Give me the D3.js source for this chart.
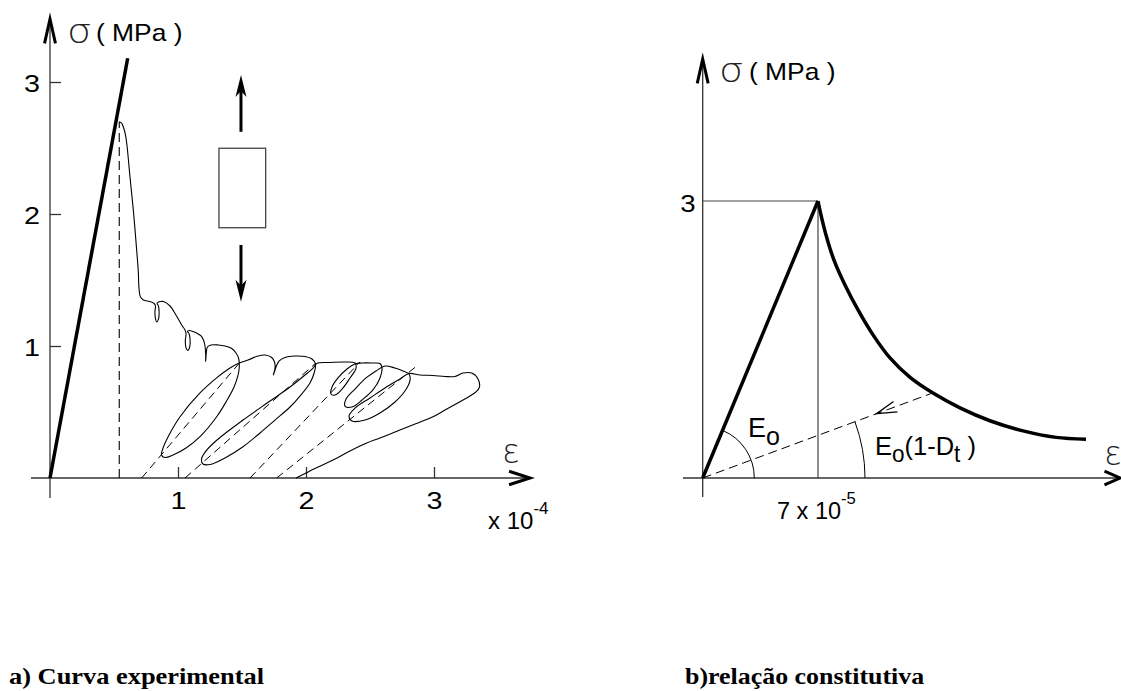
<!DOCTYPE html>
<html><head><meta charset="utf-8">
<script src="https://cdn.jsdelivr.net/npm/d3@7"></script>
<style>body{margin:0;background:#fff}svg{display:block}</style>
</head><body>
<script>
// ---------- DATA ----------
// Left: experimental curve (strain in 1e-4, stress in MPa)
const leftTicksX = [1, 2, 3];
const leftTicksY = [1, 2, 3];
const elasticLine = {strain: [0, 0.607], stress: [0, 3.18]};
const peakPoint = {strain: 0.541, stress: 2.699};
const curveStrain = [0.541,0.559,0.573,0.590,0.602,0.625,0.651,0.677,0.690,0.695,0.707,0.730,0.781,
  0.813,0.824,0.820,0.823,0.834,0.848,0.852,0.846,0.836,0.848,0.867,0.887,
  0.938,0.984,1.029,1.055,1.063,1.057,1.063,1.077,1.091,1.094,1.086,1.074,1.090,1.117,1.146,
  1.180,1.199,1.211,1.216,1.216,1.221,1.230,1.258,1.315,1.367,1.420,1.453,1.473,1.479,1.469,1.438,1.375,1.302,1.172,1.063,0.961,0.898,0.871,0.883,0.922,1.016,1.172,1.302,1.406,1.479,1.547,1.625,1.680,1.732,1.754,1.758,1.745,1.766,1.789,1.836,1.914,1.992,2.047,2.074,2.066,2.031,1.953,1.875,1.758,1.641,1.508,1.367,1.250,1.195,1.184,1.219,1.305,1.508,1.719,1.875,1.992,2.055,2.086,2.188,2.305,2.383,2.391,2.344,2.289,2.227,2.195,2.203,2.250,2.320,2.383,2.438,2.516,2.578,2.594,2.578,2.523,2.438,2.359,2.305,2.313,2.383,2.469,2.547,2.617,2.695,2.758,2.805,2.813,2.773,2.695,2.578,2.461,2.359,2.336,2.383,2.500,2.617,2.734,2.805,2.891,2.992,3.086,3.164,3.227,3.295,3.344,3.355,3.328,3.281,3.203,3.086,2.992,2.852,2.734,2.578,2.474,2.344,2.211,2.094,2.000,1.922];
const curveStress = [2.699,2.689,2.659,2.598,2.515,2.280,2.030,1.727,1.561,1.439,1.371,1.348,1.336,
  1.322,1.303,1.265,1.212,1.182,1.205,1.265,1.307,1.322,1.333,1.337,1.337,
  1.303,1.235,1.159,1.121,1.091,1.038,0.985,0.966,0.992,1.053,1.095,1.110,1.117,1.110,1.098,
  1.076,1.045,1.000,0.939,0.881,0.947,0.992,1.008,1.008,1.000,0.981,0.947,0.909,0.843,0.780,0.689,0.576,0.464,0.313,0.227,0.174,0.155,0.174,0.227,0.311,0.464,0.644,0.758,0.833,0.871,0.894,0.924,0.932,0.913,0.879,0.833,0.780,0.841,0.886,0.913,0.924,0.920,0.902,0.864,0.803,0.720,0.621,0.538,0.439,0.341,0.237,0.152,0.102,0.106,0.144,0.205,0.288,0.439,0.583,0.689,0.780,0.833,0.869,0.875,0.879,0.871,0.833,0.758,0.682,0.629,0.636,0.689,0.758,0.826,0.864,0.871,0.871,0.867,0.833,0.758,0.667,0.591,0.538,0.545,0.598,0.674,0.758,0.811,0.848,0.833,0.811,0.788,0.742,0.659,0.576,0.492,0.439,0.432,0.470,0.530,0.606,0.682,0.750,0.792,0.780,0.777,0.769,0.769,0.795,0.795,0.750,0.689,0.652,0.621,0.578,0.515,0.464,0.409,0.364,0.303,0.265,0.205,0.136,0.083,0.038,0];
// secant (unload/reload) dashed lines: [strain0, stress0, strain1, stress1]
const secantLines = [
  [0.716, 0, 1.479, 0.871],
  [1.055, 0, 2.078, 0.871],
  [1.563, 0, 2.422, 0.879],
  [1.771, 0, 2.875, 0.856]
];
// specimen icon (in data units of the left chart)
const specimenBox = {s0: 1.32, s1: 1.685, t0: 1.896, t1: 2.498};
const specimenArrows = [[1.492, 2.623, 3.053], [1.492, 1.765, 1.336]];

// Right: constitutive relation (strain in 1e-5, stress in MPa)
const rightPeak = {strain: 7, stress: 3};
const decayStrain = [7.0,7.18,7.49,7.97,8.64,9.43,10.34,11.37,12.59,13.98,15.62,17.44,19.45,21.45,23.27];
const decayStress = [3.0,2.85,2.63,2.36,2.09,1.82,1.55,1.30,1.09,0.92,0.76,0.62,0.51,0.44,0.42];
const unloadLine = {strain: [0, 13.9], stress: [0, 0.917]};
const unloadArrowAt = 10.55;

// ---------- DRAW ----------
const W = 1121, H = 691;
const svg = d3.select("body").append("svg").attr("width", W).attr("height", H);
svg.append("rect").attr("width", W).attr("height", H).attr("fill", "#fff");

const xL = d3.scaleLinear().domain([0, 3]).range([50, 434]);
const yL = d3.scaleLinear().domain([0, 3]).range([478, 82]);
const xR = d3.scaleLinear().domain([0, 7]).range([702.7, 818]);
const yR = d3.scaleLinear().domain([0, 3]).range([478, 201]);

const AX = "#333";
const SANS = "'Liberation Sans', Arial, sans-serif";
const GREEK = "'DejaVu Sans', sans-serif";
function chevron(tx, ty, ang, len, spread, w) {
  const a1 = ang + Math.PI - spread, a2 = ang + Math.PI + spread;
  svg.append("path")
    .attr("d", `M${tx + len*Math.cos(a1)},${ty + len*Math.sin(a1)}L${tx},${ty}L${tx + len*Math.cos(a2)},${ty + len*Math.sin(a2)}`)
    .attr("fill", "none").attr("stroke", "#000").attr("stroke-width", w)
    .attr("stroke-linejoin", "miter").attr("stroke-miterlimit", 20);
}
// parts: [[string, dy, fontSize], ...]; sx = horizontal stretch
function label(x, y, parts, size, opt = {}) {
  const t = svg.append("text")
    .attr("transform", `translate(${x},${y}) scale(${opt.sx || 1},1)`)
    .attr("font-family", opt.family || SANS).attr("font-size", size)
    .attr("fill", opt.fill || "#000");
  if (opt.anchor) t.attr("text-anchor", opt.anchor);
  if (opt.weight) t.attr("font-weight", opt.weight);
  parts.forEach(([s, dy, fs]) => {
    const sp = t.append("tspan").text(s);
    if (dy) sp.attr("dy", dy);
    if (fs) sp.attr("font-size", fs);
  });
  return t;
}

// ---- Left axes ----
svg.append("line").attr("x1", xL(0)).attr("x2", xL(0)).attr("y1", 20).attr("y2", 498)
  .attr("stroke", AX).attr("stroke-width", 1.3);
svg.append("line").attr("x1", 31).attr("x2", 528).attr("y1", yL(0)).attr("y2", yL(0))
  .attr("stroke", AX).attr("stroke-width", 1.3);
chevron(xL(0), 19, -Math.PI/2, 25, 0.22, 3);
chevron(530, yL(0), 0, 22, 0.31, 3);

const gyL = svg.append("g").attr("transform", `translate(${xL(0)},0)`)
  .call(d3.axisLeft(yL).tickValues(leftTicksY).tickSizeInner(-11).tickSizeOuter(0).tickPadding(10).tickFormat(d3.format("d")));
gyL.select(".domain").remove();
gyL.selectAll("line").attr("stroke", AX).attr("stroke-width", 1.3);
gyL.selectAll("text").attr("font-size", 24).attr("font-family", SANS)
  .attr("fill", "#000").attr("dy", "0.38em").attr("textLength", 16).attr("lengthAdjust", "spacingAndGlyphs");

const gxL = svg.append("g").attr("transform", `translate(0,${yL(0)})`)
  .call(d3.axisBottom(xL).tickValues(leftTicksX).tickSizeInner(-11).tickSizeOuter(0).tickPadding(14).tickFormat(d3.format("d")));
gxL.select(".domain").remove();
gxL.selectAll("line").attr("stroke", AX).attr("stroke-width", 1.3);
gxL.selectAll("text").attr("font-size", 24).attr("font-family", SANS)
  .attr("fill", "#000").attr("dy", "0.71em").attr("textLength", 16).attr("lengthAdjust", "spacingAndGlyphs");

// axis titles (left)
label(67, 43, [["σ"]], 34, {family: GREEK, weight: 200, fill: "#222", sx: 1.15});
label(96, 41, [["( MPa )"]], 24, {sx: 1.1});
label(502, 463, [["ε"]], 33, {family: GREEK, weight: 200, fill: "#222", sx: 1.0});
label(488, 529, [["x 10"], ["-4", -15, 17]], 24, {sx: 1.0});

// ---- Left marks ----
const lineL = d3.line().x(d => xL(d[0])).y(d => yL(d[1]));
svg.append("path").attr("d", lineL(d3.zip(elasticLine.strain, elasticLine.stress)))
  .attr("stroke", "#000").attr("stroke-width", 3.5).attr("fill", "none");
svg.append("path").attr("d", lineL([[peakPoint.strain, 0], [peakPoint.strain, peakPoint.stress]]))
  .attr("stroke", "#000").attr("stroke-width", 1.1).attr("stroke-dasharray", "9,5").attr("fill", "none");
secantLines.forEach(s => {
  svg.append("path").attr("d", lineL([[s[0], s[1]], [s[2], s[3]]]))
    .attr("stroke", "#000").attr("stroke-width", 1).attr("stroke-dasharray", "8,5").attr("fill", "none");
});
const curveLine = d3.line().x(d => xL(d[0])).y(d => yL(d[1])).curve(d3.curveCatmullRom.alpha(0.5));
svg.append("path").attr("d", curveLine(d3.zip(curveStrain, curveStress)))
  .attr("stroke", "#000").attr("stroke-width", 1.1).attr("fill", "none").attr("stroke-linejoin", "round");

// specimen icon
svg.append("rect").attr("x", xL(specimenBox.s0)).attr("y", yL(specimenBox.t1))
  .attr("width", xL(specimenBox.s1) - xL(specimenBox.s0)).attr("height", yL(specimenBox.t0) - yL(specimenBox.t1))
  .attr("fill", "none").attr("stroke", "#444").attr("stroke-width", 1.3);
specimenArrows.forEach(([s, from, to]) => {
  const x = xL(s), y0 = yL(from), y1 = yL(to);
  const dir = Math.sign(y1 - y0);
  svg.append("line").attr("x1", x).attr("x2", x).attr("y1", y0).attr("y2", y1 - dir * 12)
    .attr("stroke", "#000").attr("stroke-width", 3);
  svg.append("path").attr("d", `M${x},${y1}L${x - 5.5},${y1 - dir*22}L${x},${y1 - dir*16}L${x + 5.5},${y1 - dir*22}Z`)
    .attr("fill", "#000");
});

// ---- Right axes ----
svg.append("line").attr("x1", xR(0)).attr("x2", xR(0)).attr("y1", 60).attr("y2", 497)
  .attr("stroke", AX).attr("stroke-width", 1.3);
svg.append("line").attr("x1", 683).attr("x2", 1119).attr("y1", yR(0)).attr("y2", yR(0))
  .attr("stroke", AX).attr("stroke-width", 1.3);
chevron(xR(0), 59, -Math.PI/2, 25, 0.22, 3);
chevron(1120, yR(0), 0, 17, 0.42, 3);

label(719, 82, [["σ"]], 34, {family: GREEK, weight: 200, fill: "#222", sx: 1.15});
label(749, 80, [["( MPa )"]], 24, {sx: 1.1});
label(1104, 465, [["ε"]], 33, {family: GREEK, weight: 200, fill: "#222"});

label(xR(0) - 7, yR(rightPeak.stress) + 10.5, [[String(rightPeak.stress)]], 24, {anchor: "end", sx: 1.15});
label(777, 519, [[`${rightPeak.strain} x 10`], ["-5", -15, 17]], 24, {sx: 0.98});

const lineR = d3.line().x(d => xR(d[0])).y(d => yR(d[1]));
svg.append("path").attr("d", lineR([[0, rightPeak.stress], [rightPeak.strain, rightPeak.stress]]))
  .attr("stroke", "#444").attr("stroke-width", 1.2).attr("fill", "none");
svg.append("path").attr("d", lineR([[rightPeak.strain, 0], [rightPeak.strain, rightPeak.stress]]))
  .attr("stroke", "#444").attr("stroke-width", 1.2).attr("fill", "none");
svg.append("path").attr("d", lineR(d3.zip(unloadLine.strain, unloadLine.stress)))
  .attr("stroke", "#000").attr("stroke-width", 1).attr("stroke-dasharray", "9,5").attr("fill", "none");
{
  const slope = unloadLine.stress[1] / unloadLine.strain[1];
  const tx = xR(unloadArrowAt), ty = yR(unloadArrowAt * slope);
  const ang = Math.atan2(yR(0) - ty, xR(0) - tx);
  chevron(tx, ty, ang, 21, 0.27, 1.3);
}
svg.append("path").attr("d", lineR([[0, 0], [rightPeak.strain, rightPeak.stress]]))
  .attr("stroke", "#000").attr("stroke-width", 3.5).attr("fill", "none");
svg.append("path").attr("d", d3.line().x(d => xR(d[0])).y(d => yR(d[1])).curve(d3.curveCatmullRom.alpha(0.5))(d3.zip(decayStrain, decayStress)))
  .attr("stroke", "#000").attr("stroke-width", 3.5).attr("fill", "none");

function arc(r, angDeg) {
  const cx = xR(0), cy = yR(0), a = angDeg * Math.PI / 180;
  svg.append("path").attr("d", `M${cx + r*Math.cos(a)},${cy - r*Math.sin(a)}A${r},${r} 0 0 1 ${cx + r},${cy}`)
    .attr("fill", "none").attr("stroke", "#000").attr("stroke-width", 1);
}
const angE = Math.atan2(yR(0) - yR(rightPeak.stress), xR(rightPeak.strain) - xR(0)) * 180 / Math.PI;
const angD = Math.atan2(yR(0) - yR(unloadLine.stress[1]), xR(unloadLine.strain[1]) - xR(0)) * 180 / Math.PI;
arc(51.6, angE);
arc(162.3, angD);

label(748, 437, [["E"], ["o", 8, 25]], 27, {sx: 1.0});
label(875, 455, [["E"], ["o", 7, 23], ["(1-D", -7, 26], ["t", 7, 23], [" )", -7, 26]], 26, {sx: 0.98});

label(9, 684, [["a) Curva experimental"]], 24, {family: "'Liberation Serif', 'Times New Roman', serif", weight: "bold", sx: 1.1});
label(685, 684, [["b)relação constitutiva"]], 24, {family: "'Liberation Serif', 'Times New Roman', serif", weight: "bold", sx: 1.08});
</script>
</body></html>
